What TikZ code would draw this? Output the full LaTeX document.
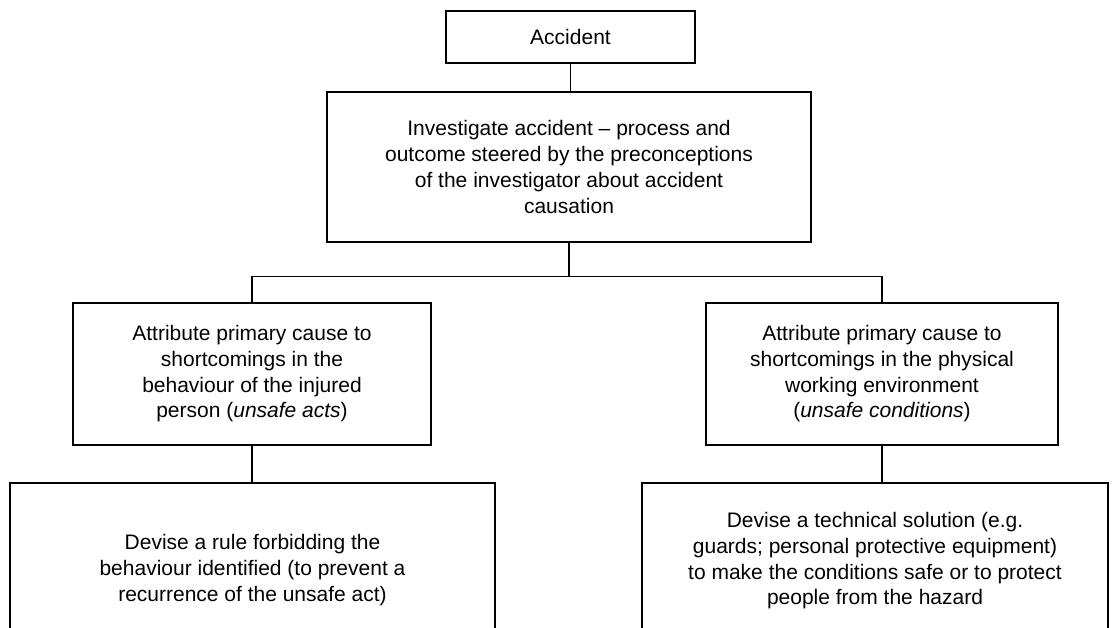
\documentclass[tikz,border=0pt]{standalone}
\usepackage{fontspec}
\setmainfont{Liberation Sans}
\usepackage{tikz}

\tikzset{box/.style={rectangle, draw, line width=1.1pt, align=center,
    inner sep=0pt, font=\fontsize{21}{25.7}\selectfont}}
\newcommand{\flowbox}[5]{\node[box, minimum width=#3, minimum height=#4] (#1) at (#2) {#5};}

\begin{document}
\begin{tikzpicture}[x=1pt, y=-1pt, line width=1.1pt]
  \useasboundingbox (0,0) rectangle (1113,627);
  \clip (0,0) rectangle (1113,627);

  % Boxes
  % -----

  \flowbox{acc}{570.5,37}{249pt}{52pt}{Accident}
  \flowbox{inv}{569,167}{484pt}{150pt}{Investigate accident -- process and\\
    outcome steered by the preconceptions\\
    of the investigator about accident\\
    causation}

  % Two ways of looking at the cause
  \flowbox{acts}{252,374}{358pt}{142pt}{Attribute primary cause to\\
    shortcomings in the\\
    behaviour of the injured\\
    person (\textit{unsafe acts})}
  \flowbox{cond}{882,374}{352pt}{142pt}{Attribute primary cause to\\
    shortcomings in the physical\\
    working environment\\
    (\textit{unsafe conditions})}

  % Remedies (run off the bottom)
  \flowbox{rule}{252.5,570}{485pt}{174pt}{Devise a rule forbidding the\\
    behaviour identified (to prevent a\\
    recurrence of the unsafe act)}
  \flowbox{tech}{875,561}{466pt}{156pt}{Devise a technical solution (e.g.\\
    guards; personal protective equipment)\\
    to make the conditions safe or to protect\\
    people from the hazard}

  % Connectors
  % ----------

  \draw (acc.south) -- (acc.south |- inv.north);
  \draw (inv.south) -- ++(0,34) -| (acts.north);
  \draw (inv.south) -- ++(0,34) -| (cond.north);
  \draw (acts.south) -- (acts.south |- rule.north);
  \draw (cond.south) -- (cond.south |- tech.north);

\end{tikzpicture}
\end{document}
